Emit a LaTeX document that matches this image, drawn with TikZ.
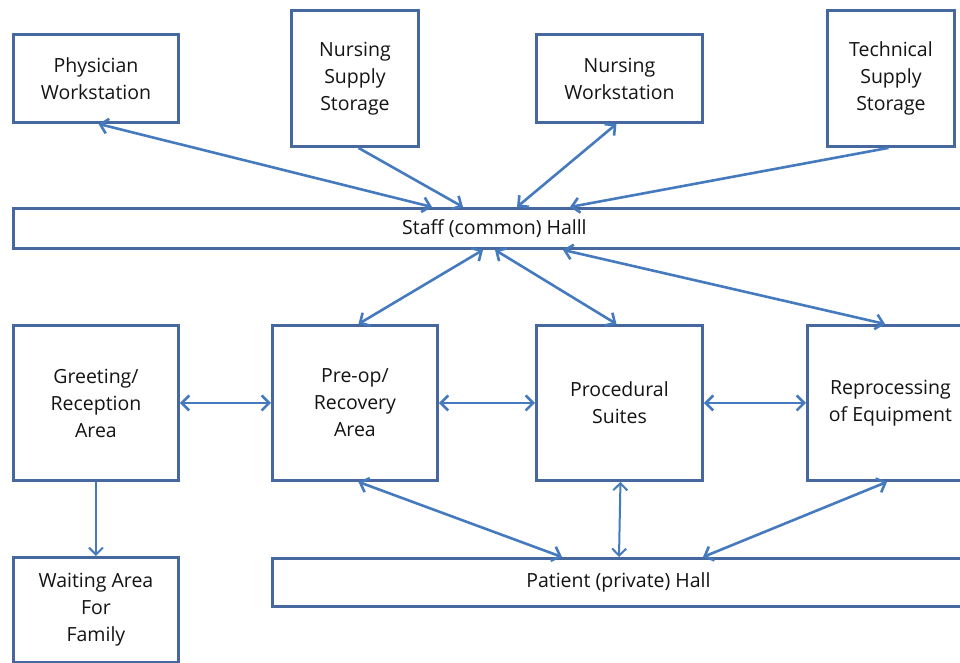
\documentclass[tikz,border=0pt]{standalone}
\usepackage{fontspec}
\setmainfont{Open Sans}
\usetikzlibrary{arrows.meta}
\definecolor{boxblue}{RGB}{70,104,158}
\definecolor{arrblue}{RGB}{70,122,190}
\definecolor{txt}{RGB}{20,20,20}
\begin{document}
\begin{tikzpicture}[x=1pt,y=-1pt,
  box/.style={draw=boxblue, line width=2.9pt, fill=white, anchor=north west, inner sep=0pt,
    align=center, text=txt, font=\fontsize{19.5}{27}\selectfont},
  link/.style={draw=arrblue, line width=2.6pt, {Straight Barb[length=7.5pt,width=15pt]}-{Straight Barb[length=7.5pt,width=15pt]}},
  oneway/.style={draw=arrblue, line width=2.6pt, -{Straight Barb[length=7.5pt,width=15pt]}},
  thinlink/.style={draw=arrblue, line width=2pt, {Straight Barb[length=7pt,width=14pt]}-{Straight Barb[length=7pt,width=14pt]}},
  thinway/.style={draw=arrblue, line width=2pt, -{Straight Barb[length=7pt,width=14pt]}}]
\useasboundingbox (0,0) rectangle (960,663);
\clip (0,0) rectangle (960,663);
\fill[white] (0,0) rectangle (960,663);
% top row
\node[box, minimum width=165pt, minimum height=88pt] (phys) at (12,33) {Physician\\Workstation};
\node[box, minimum width=127pt, minimum height=136pt] (nss) at (290,9) {Nursing\\Supply\\Storage};
\node[box, minimum width=166pt, minimum height=88pt] (nws) at (535,33) {Nursing\\Workstation};
\node[box, minimum width=127pt, minimum height=136pt] (tss) at (826,9) {Technical\\Supply\\Storage};
% staff hall
\node[box, minimum width=962pt, minimum height=40pt] (staff) at (12,207) {Staff (common) Halll};
% middle row
\node[box, minimum width=165pt, minimum height=155pt] (greet) at (12,324) {Greeting/\\Reception\\Area};
\node[box, minimum width=165pt, minimum height=155pt] (preop) at (271,324) {Pre-op/\\Recovery\\Area};
\node[box, minimum width=166pt, minimum height=155pt] (proc) at (535,324) {Procedural\\Suites};
\node[box, minimum width=166pt, minimum height=155pt] (repro) at (806,324) {Reprocessing\\of Equipment};
% bottom
\node[box, minimum width=165pt, minimum height=105pt] (wait) at (12,556) {Waiting Area\\For\\Family};
\node[box, minimum width=692pt, minimum height=48pt] (pat) at (271,557) {Patient (private) Hall};
% arrows top
\draw[link] ([xshift=2.5pt]phys.south) -- ([xshift=420pt]staff.north west);
\draw[oneway] ([xshift=3.5pt]nss.south) -- ([xshift=451pt]staff.north west);
\draw[link] ([xshift=-3pt]nws.south) -- ([xshift=505pt]staff.north west);
\draw[oneway] ([xshift=-2.5pt]tss.south) -- ([xshift=558pt]staff.north west);
% arrows staff to middle
\draw[link] ([xshift=471pt]staff.south west) -- ([xshift=3.5pt]preop.north);
\draw[link] ([xshift=483pt]staff.south west) -- ([xshift=-3pt]proc.north);
\draw[link] ([xshift=551pt]staff.south west) -- ([xshift=79pt]repro.north west);
% horizontal
\draw[link] (greet.east) -- (preop.west);
\draw[link] (preop.east) -- (proc.west);
\draw[link] (proc.east) -- (repro.west);
% bottom
\draw[thinway] (greet.south -| wait.north) -- (wait.north);
\draw[link] ([xshift=3.5pt]preop.south) -- ([xshift=291pt]pat.north west);
\draw[thinlink] ([xshift=1pt]proc.south) -- ([xshift=348pt]pat.north west);
\draw[link] ([xshift=81pt]repro.south west) -- ([xshift=432pt]pat.north west);
\end{tikzpicture}
\end{document}
